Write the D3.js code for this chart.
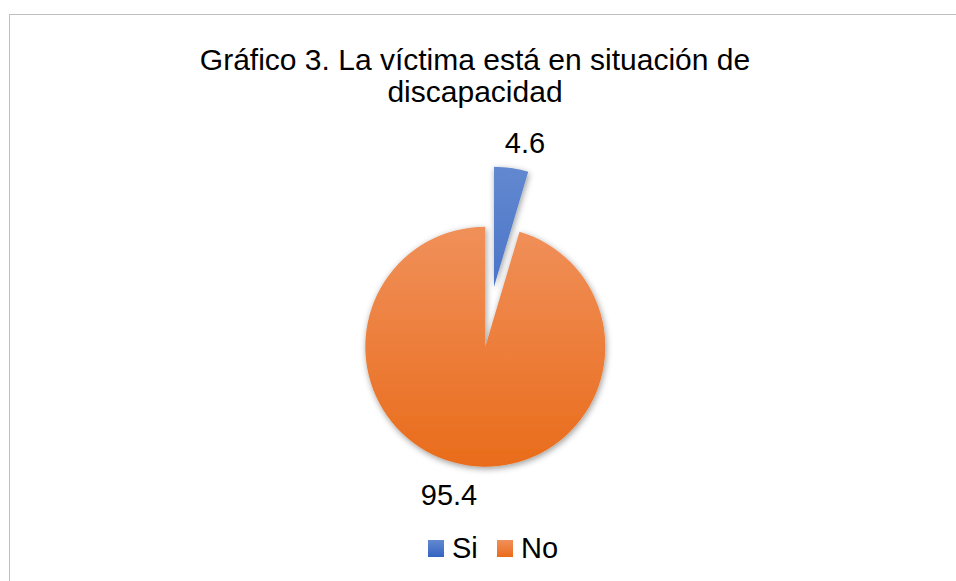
<!DOCTYPE html>
<html lang="es">
<head>
    <meta charset="UTF-8">
    <title>Gráfico 3</title>
    <script src="https://cdnjs.cloudflare.com/ajax/libs/d3/7.8.5/d3.min.js"></script>
    <style>
        body {
            margin: 0;
            background-color: #fff;
            font-family: "Liberation Sans", Arial, sans-serif;
        }
        #chart svg {
            display: block;
        }
    </style>
</head>
<body>
    <div id="chart"></div>

    <script>
        // data
        const categories = ["Si", "No"];
        const values = [4.6, 95.4];
        const titleLines = ["Gráfico 3. La víctima está en situación de", "discapacidad"];
        const explode = [60.6, 0];   // only "Si" is pulled out

        const colors = {
            Si: ["#6288cf", "#3463c2"],
            No: ["#f0905a", "#e96c1b"]
        };

        const width = 956, height = 581;
        const cx = 485.3, cy = 346.7, radius = 120;

        const svg = d3.select("#chart")
            .append("svg")
            .attr("width", width)
            .attr("height", height);

        const defs = svg.append("defs");

        categories.forEach(c => {
            const g = defs.append("linearGradient")
                .attr("id", "grad-" + c)
                .attr("gradientUnits", "userSpaceOnUse")
                .attr("x1", 0).attr("x2", 0)
                .attr("y1", -radius)
                .attr("y2", radius);
            g.append("stop").attr("offset", "0%").attr("stop-color", colors[c][0]);
            g.append("stop").attr("offset", "100%").attr("stop-color", colors[c][1]);

            const lg = defs.append("linearGradient")
                .attr("id", "legend-" + c)
                .attr("x1", 0).attr("x2", 0).attr("y1", 0).attr("y2", 1);
            lg.append("stop").attr("offset", "0%").attr("stop-color", colors[c][0]);
            lg.append("stop").attr("offset", "100%").attr("stop-color", colors[c][1]);
        });

        const shadow = defs.append("filter")
            .attr("id", "shadow")
            .attr("x", "-30%").attr("y", "-30%")
            .attr("width", "160%").attr("height", "160%");
        shadow.append("feDropShadow")
            .attr("dx", 1).attr("dy", 2)
            .attr("stdDeviation", 3)
            .attr("flood-color", "#000")
            .attr("flood-opacity", 0.4);

        // chart border (runs off the right and bottom of the window)
        svg.append("rect")
            .attr("x", 9.5).attr("y", 14.5)
            .attr("width", 1000).attr("height", 700)
            .attr("fill", "#fff")
            .attr("stroke", "#bfbfbf")
            .attr("stroke-width", 1);

        // title
        svg.append("text")
            .attr("x", 475)
            .attr("y", 70)
            .attr("text-anchor", "middle")
            .style("font-size", "30px")
            .style("fill", "#000")
            .selectAll("tspan")
            .data(titleLines)
            .enter()
            .append("tspan")
            .attr("x", 475)
            .attr("dy", (d, i) => i === 0 ? 0 : 32)
            .text(d => d);

        const pie = d3.pie().sort(null).value(d => d.value);
        const arcs = pie(categories.map((c, i) => ({name: c, value: values[i], explode: explode[i]})));

        const arc = d3.arc().innerRadius(0).outerRadius(radius);

        const slices = svg.append("g")
            .attr("transform", `translate(${cx},${cy})`);

        slices.selectAll("path")
            .data(arcs)
            .enter()
            .append("path")
            .attr("transform", d => {
                const mid = (d.startAngle + d.endAngle) / 2;
                const off = d.data.explode;
                return `translate(${Math.sin(mid) * off},${-Math.cos(mid) * off})`;
            })
            .attr("d", arc)
            .attr("fill", d => `url(#grad-${d.data.name})`)
            .attr("filter", "url(#shadow)");

        // data labels
        const labelPos = {Si: [525, 153], No: [449, 505]};
        svg.append("g")
            .selectAll("text")
            .data(arcs)
            .enter()
            .append("text")
            .attr("x", d => labelPos[d.data.name][0])
            .attr("y", d => labelPos[d.data.name][1])
            .attr("text-anchor", "middle")
            .style("font-size", "29px")
            .style("fill", "#000")
            .text(d => d3.format(".1f")(d.data.value));

        // legend
        const legendX = [428, 497];
        const items = svg.append("g")
            .selectAll("g")
            .data(categories)
            .enter()
            .append("g")
            .attr("transform", (d, i) => `translate(${legendX[i]},540)`);
        items.append("rect")
            .attr("width", 16).attr("height", 17)
            .attr("fill", d => `url(#legend-${d})`);
        items.append("text")
            .attr("x", 24)
            .attr("y", 18)
            .style("font-size", "29px")
            .style("fill", "#000")
            .text(d => d);
    </script>
</body>
</html>
